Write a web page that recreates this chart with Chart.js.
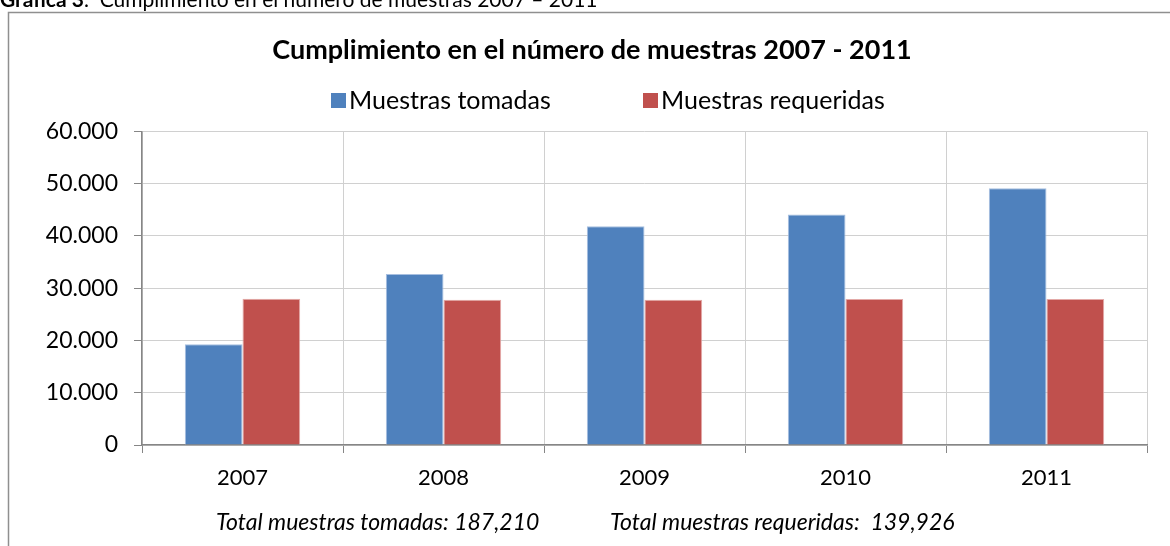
<!DOCTYPE html>
<html>
<head>
<meta charset="utf-8">
<script src="https://cdn.jsdelivr.net/npm/chart.js@4/dist/chart.umd.min.js"></script>
<style>
  body { margin: 0; background: #fff; }
  #wrap { width: 1170px; height: 546px; position: relative; }
</style>
</head>
<body>
<div id="wrap"><canvas id="grafica"></canvas></div>
<script>
// datos
var anios = ["2007", "2008", "2009", "2010", "2011"];
var tomadas = [19300, 32700, 41850, 44100, 49100];
var requeridas = [27960, 27780, 27800, 27930, 27930];
var yTicks = [0, 10000, 20000, 30000, 40000, 50000, 60000];

var tituloGrafica = "Cumplimiento en el número de muestras 2007 - 2011";
var pieTomadas = "Total muestras tomadas: 187,210";
var pieRequeridas = "Total muestras requeridas:  139,926";

var fuente = "Lato, 'Open Sans', sans-serif";

function formatMiles(v) {
    return v.toString().replace(/\B(?=(\d{3})+(?!\d))/g, ".");
}

// marco, leyenda y textos de pie
var decoracion = {
    id: "decoracion",
    afterDraw: function (chart) {
        var ctx = chart.ctx;
        ctx.save();
        // titulo del documento (cortado arriba)
        ctx.fillStyle = "#000";
        ctx.textBaseline = "alphabetic";
        ctx.textAlign = "left";
        ctx.font = "bold 21px " + fuente;
        ctx.fillText("Gráfica 3", 0, 7);
        var w = ctx.measureText("Gráfica 3").width;
        ctx.font = "21px " + fuente;
        ctx.fillText(".  Cumplimiento en el número de muestras 2007 – 2011", w, 7);

        // marco
        ctx.strokeStyle = "#8f8f8f";
        ctx.lineWidth = 1.5;
        ctx.beginPath();
        ctx.moveTo(8.5, 546);
        ctx.lineTo(8.5, 12.5);
        ctx.lineTo(1170, 12.5);
        ctx.stroke();

        // leyenda
        ctx.font = "25px " + fuente;
        ctx.textBaseline = "middle";
        var posX = [331, 643];
        chart.data.datasets.forEach(function (ds, i) {
            ctx.fillStyle = ds.backgroundColor;
            ctx.fillRect(posX[i], 93, 15, 15);
            ctx.fillStyle = "#000";
            ctx.fillText(ds.label, posX[i] + 18, 101);
        });

        // pie
        ctx.font = "italic 23px " + fuente;
        ctx.textBaseline = "middle";
        ctx.fillText(pieTomadas, 216, 523);
        ctx.fillText(pieRequeridas, 610, 523);
        ctx.restore();
    }
};

new Chart(document.getElementById("grafica"), {
    type: "bar",
    data: {
        labels: anios,
        datasets: [{
            label: "Muestras tomadas",
            data: tomadas,
            backgroundColor: "#4f81bd",
            borderColor: "#a7bfe0",
            borderWidth: 1
        }, {
            label: "Muestras requeridas",
            data: requeridas,
            backgroundColor: "#c0504d",
            borderColor: "#e3a9a7",
            borderWidth: 1
        }]
    },
    options: {
        responsive: true,
        maintainAspectRatio: false,
        animation: false,
        layout: { padding: { top: 0, left: 37, right: 23, bottom: 0 } },
        plugins: {
            legend: { display: false },
            tooltip: { enabled: false },
            title: {
                display: true,
                text: tituloGrafica,
                color: "#000",
                font: { family: fuente, size: 27, weight: "bold" },
                padding: { top: 34, bottom: 65 }
            }
        },
        datasets: {
            bar: { categoryPercentage: 0.574, barPercentage: 1.0 }
        },
        scales: {
            x: {
                grid: { color: "#d0d0d0", tickColor: "#868686", tickLength: 8, offset: true },
                border: { color: "#868686", width: 1.5 },
                ticks: { color: "#000", padding: 12, font: { family: fuente, size: 22 } },
                afterFit: function (scale) { scale.height = 101; }
            },
            y: {
                min: 0,
                max: 60000,
                afterBuildTicks: function (scale) {
                    scale.ticks = yTicks.map(function (v) { return { value: v }; });
                },
                grid: { color: "#d0d0d0", tickColor: "#868686", tickLength: 8 },
                border: { color: "#868686", width: 1.5 },
                ticks: {
                    color: "#000",
                    padding: 16,
                    font: { family: fuente, size: 23 },
                    callback: function (v) { return formatMiles(v); }
                },
                afterFit: function (scale) { scale.width = 105; }
            }
        }
    },
    plugins: [decoracion]
});
</script>
</body>
</html>
